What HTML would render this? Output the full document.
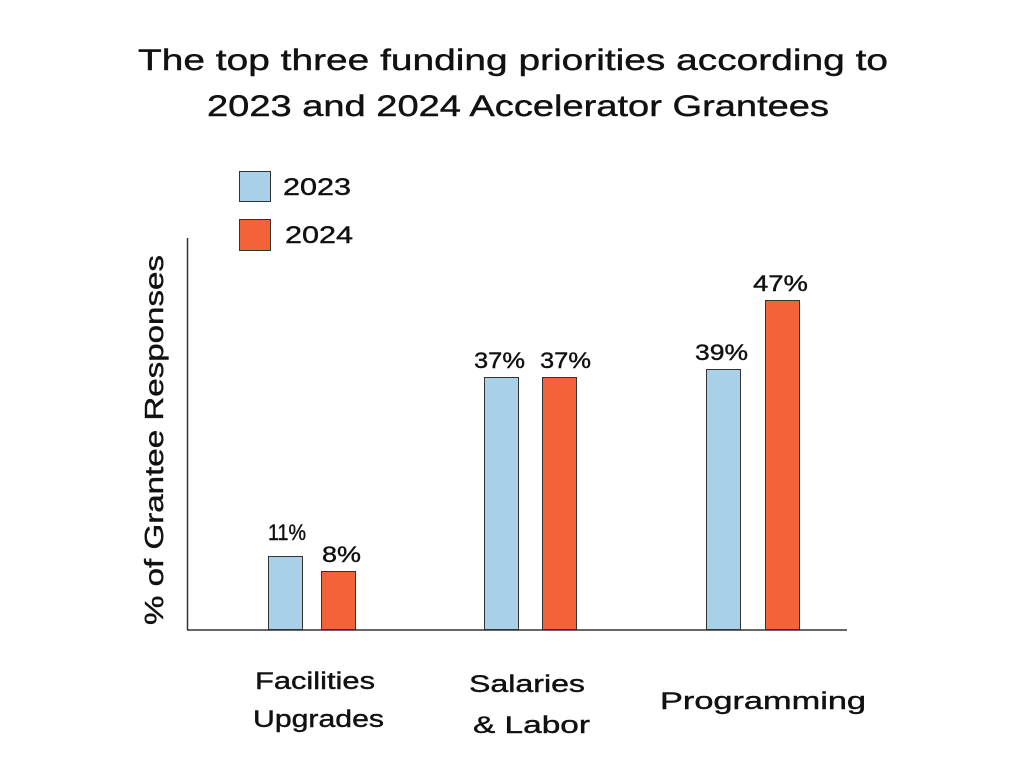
<!DOCTYPE html>
<html><head><meta charset="utf-8"><style>
html,body{margin:0;padding:0;background:#fff;}
svg text{font-family:"Liberation Sans",sans-serif;fill:#111;stroke:#111;stroke-width:0.4px;}
</style></head><body>
<svg width="1024" height="768" xmlns="http://www.w3.org/2000/svg">
<rect width="1024" height="768" fill="#fff"/>
<text x="138" y="70" font-size="30" textLength="750" lengthAdjust="spacingAndGlyphs">The top three funding priorities according to</text>
<text x="207" y="116" font-size="30" textLength="622" lengthAdjust="spacingAndGlyphs">2023 and 2024 Accelerator Grantees</text>
<rect x="239.5" y="171.5" width="31" height="30" fill="#a8d0e8" stroke="#333"/>
<rect x="239.5" y="219.5" width="31" height="31" fill="#f4623a" stroke="#333"/>
<text x="283" y="195" font-size="24" textLength="68" lengthAdjust="spacingAndGlyphs">2023</text>
<text x="285" y="243" font-size="24" textLength="68" lengthAdjust="spacingAndGlyphs">2024</text>
<line x1="187.5" y1="238" x2="187.5" y2="630" stroke="#333" stroke-width="1.5"/>
<line x1="187" y1="630" x2="847" y2="630" stroke="#333" stroke-width="1.5"/>
<g stroke="#333" stroke-width="1">
<rect x="268.5" y="556.5" width="34" height="73" fill="#a8d0e8"/>
<rect x="321.5" y="571.5" width="34" height="58" fill="#f4623a"/>
<rect x="484.5" y="377.5" width="34" height="252" fill="#a8d0e8"/>
<rect x="542.5" y="377.5" width="34" height="252" fill="#f4623a"/>
<rect x="706.5" y="369.5" width="34" height="260" fill="#a8d0e8"/>
<rect x="765.5" y="300.5" width="34" height="329" fill="#f4623a"/>
</g>
<g font-size="22" lengthAdjust="spacingAndGlyphs">
<text x="268" y="540" textLength="38" lengthAdjust="spacingAndGlyphs">11%</text>
<text x="322" y="562" textLength="39" lengthAdjust="spacingAndGlyphs">8%</text>
<text x="474" y="368" textLength="51" lengthAdjust="spacingAndGlyphs">37%</text>
<text x="540" y="368" textLength="51" lengthAdjust="spacingAndGlyphs">37%</text>
<text x="695" y="360" textLength="53" lengthAdjust="spacingAndGlyphs">39%</text>
<text x="753" y="291" textLength="55" lengthAdjust="spacingAndGlyphs">47%</text>
</g>
<text transform="translate(163,625) rotate(-90)" font-size="26" textLength="370" lengthAdjust="spacingAndGlyphs">% of Grantee Responses</text>
<g font-size="24">
<text x="255" y="689" textLength="120" lengthAdjust="spacingAndGlyphs">Facilities</text>
<text x="253" y="727" textLength="131" lengthAdjust="spacingAndGlyphs">Upgrades</text>
<text x="469" y="692" textLength="116" lengthAdjust="spacingAndGlyphs">Salaries</text>
<text x="473" y="733" textLength="117" lengthAdjust="spacingAndGlyphs">&amp; Labor</text>
<text x="660" y="709" textLength="206" lengthAdjust="spacingAndGlyphs">Programming</text>
</g>
</svg>
</body></html>
